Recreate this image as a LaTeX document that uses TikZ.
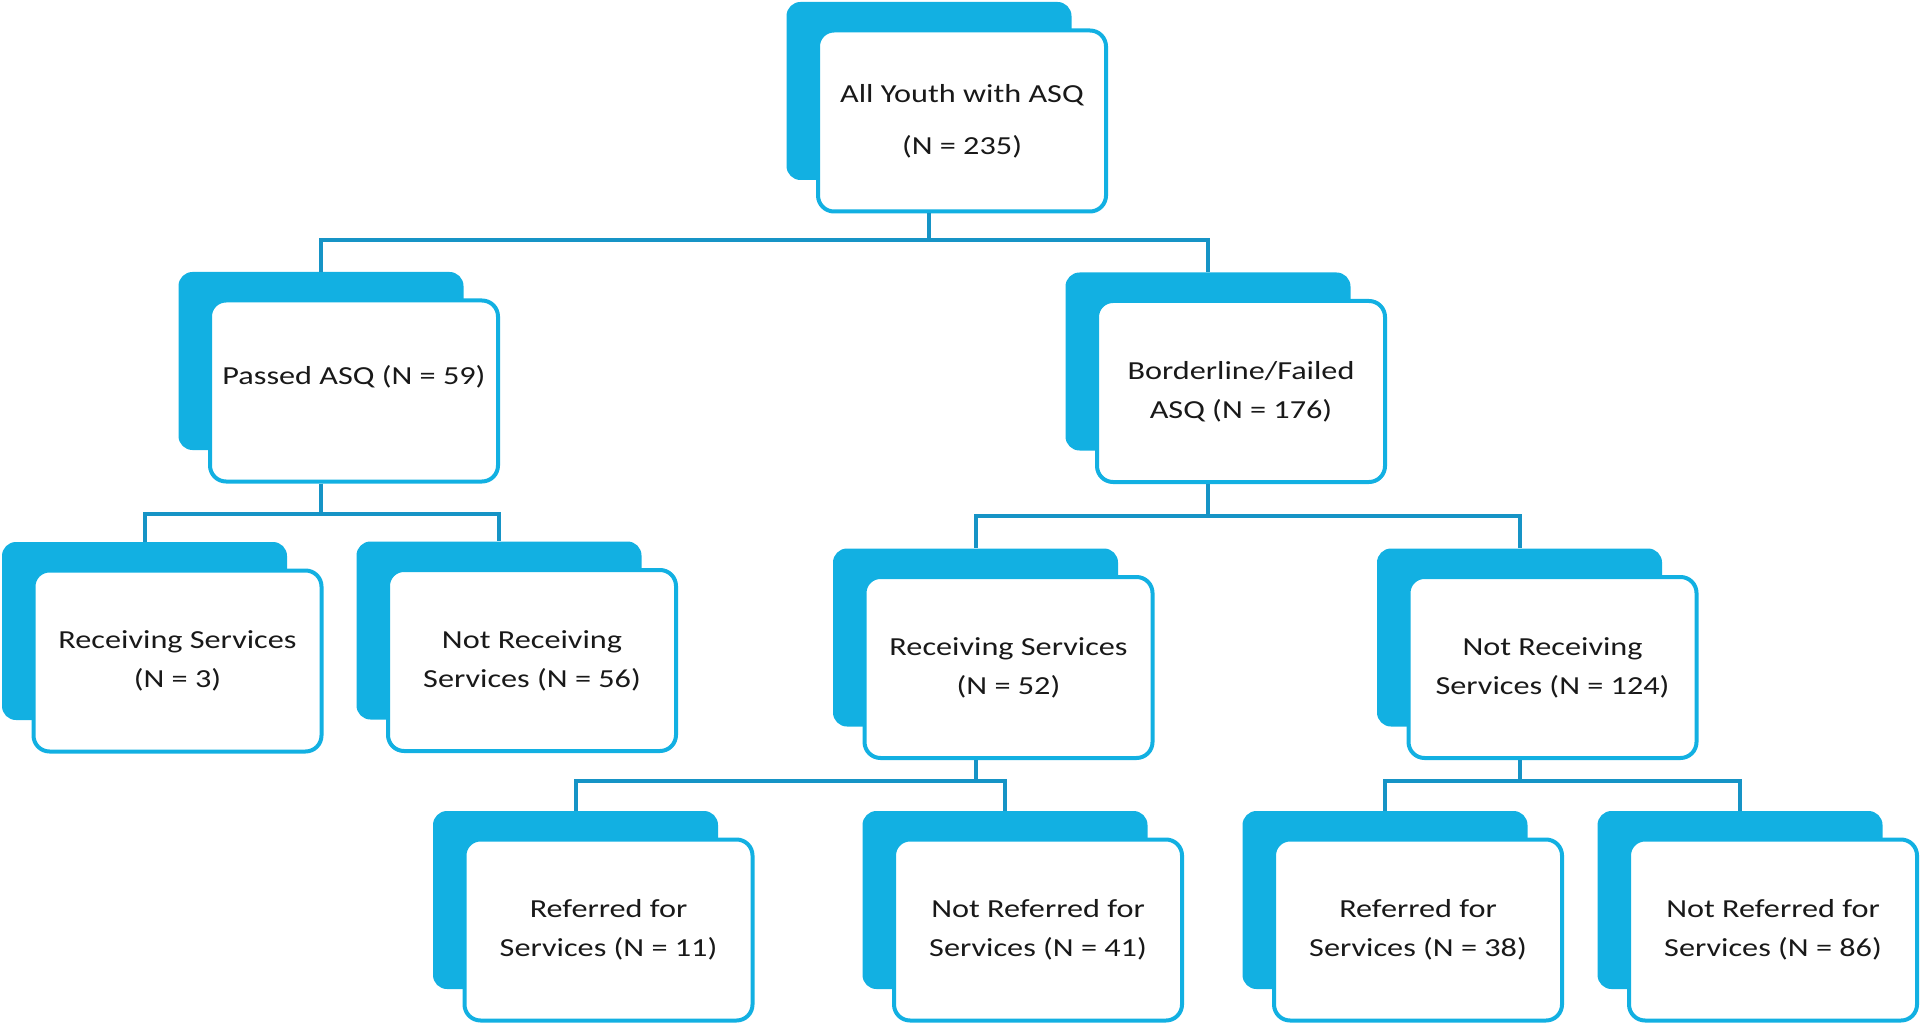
\documentclass[tikz,border=0pt]{standalone}
\usepackage{fontspec}
\setmainfont{Carlito}[FakeStretch=1.24]
\usepackage{tikz}
\definecolor{cardblue}{RGB}{18, 176, 226}
\definecolor{linkblue}{RGB}{22, 148, 198}
\definecolor{cardtext}{RGB}{25, 25, 25}

\begin{document}
\begin{tikzpicture}[x=0.5pt, y=-0.5pt,
  every node/.style={font=\fontsize{13}{19.5}\selectfont, text=cardtext},
  backcard/.style={fill=cardblue, rounded corners=7pt, minimum width=142.5pt, minimum height=89pt, inner sep=0pt},
  frontcard/.style={draw=cardblue, fill=white, line width=2pt, rounded corners=8pt, minimum width=144pt, minimum height=90.5pt, inner sep=0pt, align=center},
  link/.style={draw=linkblue, line width=2pt}]
  \useasboundingbox (0,0) rectangle (1920,1026);
  \foreach \nm/\x/\y/\txt in {
      top/929/91/{All Youth with ASQ\\[6.5pt](N = 235)},
      pass/321/361/{Passed ASQ (N = 59)\\[-9pt] \strut},
      bord/1208/361.5/{Borderline/Failed\\ASQ (N = 176)},
      recA/144.5/631/{Receiving Services\\(N = 3)},
      notrecA/499/630.5/{Not Receiving\\Services (N = 56)},
      recB/975.5/637.5/{Receiving Services\\(N = 52)},
      notrecB/1519.5/637.5/{Not Receiving\\Services (N = 124)},
      refA/575.5/900/{Referred for\\Services (N = 11)},
      notrefA/1005/900/{Not Referred for\\Services (N = 41)},
      refB/1385/900/{Referred for\\Services (N = 38)},
      notrefB/1740/900/{Not Referred for\\Services (N = 86)}} {
    \node[backcard] (\nm bk) at (\x,\y) {};
    \node[frontcard] (\nm) at ([shift={(33,30)}]\nm bk.center) {\txt};
  }
  \draw[link] (topbk |- top.south) -- ++(0,27) -| (passbk.north);
  \draw[link] (topbk |- top.south) -- ++(0,27) -| (bordbk.north);
  \draw[link] (passbk |- pass.south) -- ++(0,30) -| (recAbk.north);
  \draw[link] (passbk |- pass.south) -- ++(0,30) -| (notrecAbk.north);
  \draw[link] (bordbk |- bord.south) -- ++(0,32) -| (recBbk.north);
  \draw[link] (bordbk |- bord.south) -- ++(0,32) -| (notrecBbk.north);
  \draw[link] (recBbk |- recB.south) -- ++(0,21) -| (refAbk.north);
  \draw[link] (recBbk |- recB.south) -- ++(0,21) -| (notrefAbk.north);
  \draw[link] (notrecBbk |- notrecB.south) -- ++(0,21) -| (refBbk.north);
  \draw[link] (notrecBbk |- notrecB.south) -- ++(0,21) -| (notrefBbk.north);
\end{tikzpicture}
\end{document}
